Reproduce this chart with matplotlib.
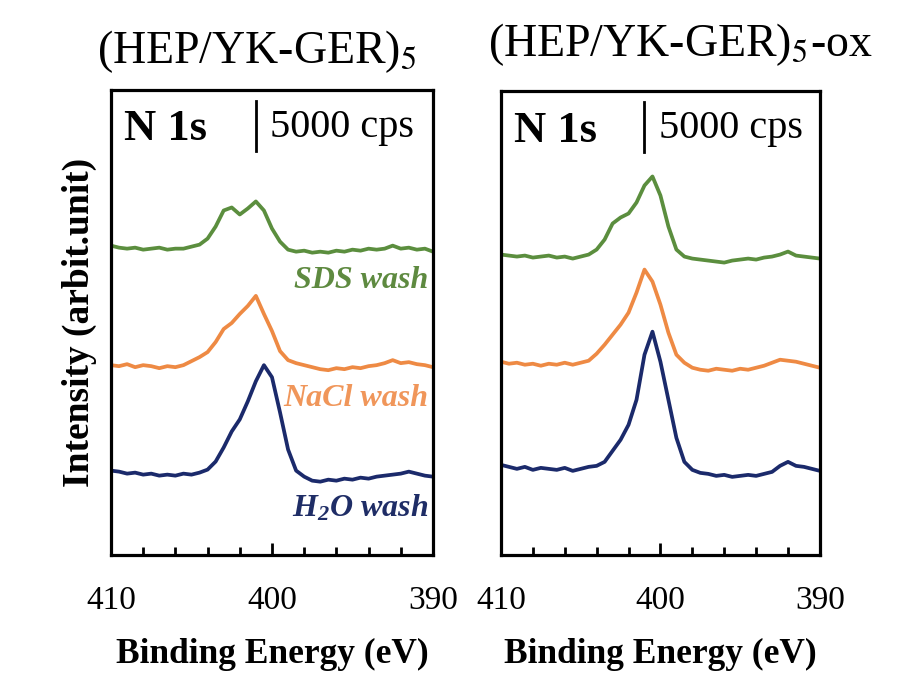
import numpy as np
import matplotlib.pyplot as plt

plt.rcParams['font.family'] = ['Liberation Serif', 'DejaVu Serif']
plt.rcParams['mathtext.fontset'] = 'custom'
plt.rcParams['mathtext.rm'] = 'Liberation Serif:bold:italic'
plt.rcParams['mathtext.it'] = 'Liberation Serif:bold:italic'

# Binding energy grid (eV), 410 -> 390 in 0.5 eV steps
energy = np.arange(410, 389.9, -0.5)

# Intensities in kcps (stacked with offsets as in the figure)
# (HEP/YK-GER)5
h2o_a = [8.4, 8.3, 8.1, 8.2, 8.0, 8.1, 7.9, 8.0, 7.9, 8.1, 8.0, 8.2, 8.5, 9.3, 10.7, 12.3,
         13.5, 15.3, 17.3, 18.9, 17.7, 14.2, 10.5, 8.4, 7.8, 7.4, 7.3, 7.5, 7.4, 7.6, 7.5,
         7.7, 7.6, 7.8, 7.9, 8.0, 8.1, 8.3, 8.1, 7.9, 7.8]
nacl_a = [18.9, 18.8, 19.0, 18.7, 18.9, 18.8, 18.6, 18.8, 18.7, 18.9, 19.3, 19.7, 20.2, 21.2,
          22.5, 23.1, 24.0, 24.8, 25.8, 24.0, 22.3, 20.3, 19.4, 19.1, 18.9, 18.7, 18.5, 18.4,
          18.6, 18.5, 18.7, 18.6, 18.8, 18.9, 19.1, 19.4, 19.1, 19.2, 19.0, 18.9, 18.7]
sds_a = [30.8, 30.6, 30.5, 30.6, 30.4, 30.5, 30.6, 30.4, 30.5, 30.5, 30.7, 30.9, 31.5, 32.7,
         34.3, 34.6, 33.9, 34.5, 35.2, 34.3, 32.5, 31.2, 30.4, 30.2, 30.3, 30.1, 30.2, 30.1,
         30.3, 30.2, 30.4, 30.3, 30.5, 30.4, 30.5, 30.8, 30.5, 30.6, 30.4, 30.5, 30.2]

# (HEP/YK-GER)5-ox
h2o_b = [9.0, 8.8, 8.6, 8.8, 8.5, 8.7, 8.6, 8.5, 8.7, 8.4, 8.6, 8.8, 8.9, 9.3, 10.4, 11.5,
         13.0, 15.5, 20.0, 22.3, 19.3, 15.5, 11.7, 9.3, 8.5, 8.2, 8.1, 7.9, 8.0, 7.8, 7.9,
         8.0, 7.9, 8.1, 8.3, 8.9, 9.3, 8.9, 8.8, 8.6, 8.4]
nacl_b = [19.3, 19.1, 19.2, 19.0, 19.1, 18.9, 19.1, 19.0, 19.2, 19.0, 19.2, 19.4, 20.1, 21.0,
          22.0, 23.0, 24.2, 26.2, 28.5, 27.3, 25.0, 22.2, 20.0, 19.2, 18.7, 18.5, 18.4, 18.6,
          18.5, 18.4, 18.6, 18.5, 18.7, 18.9, 19.2, 19.5, 19.4, 19.3, 19.1, 18.9, 18.7]
sds_b = [30.0, 29.9, 29.8, 29.9, 29.7, 29.8, 29.9, 29.7, 29.8, 29.6, 29.8, 30.0, 30.5, 31.5,
         33.1, 33.7, 34.1, 35.2, 36.9, 37.8, 35.9, 32.8, 30.5, 29.8, 29.6, 29.5, 29.4, 29.3,
         29.2, 29.4, 29.5, 29.6, 29.5, 29.7, 29.8, 30.0, 30.3, 29.9, 29.8, 29.7, 29.6]

titles = ["(HEP/YK-GER)$_5$", "(HEP/YK-GER)$_5$-ox"]
wash_labels = ["SDS wash", "NaCl wash", "H$_2$O wash"]
line_colors = ["#5b8e3e", "#ee8a44", "#1b2a6b"]
label_colors = ["#5e8a40", "#f0965a", "#1f2d66"]
label_y = [27.3, 15.6, 4.7]
scale_bar = 5.0  # 5000 cps

fig = plt.figure(figsize=(9.09, 6.92), dpi=100)
ax_a = fig.add_axes([0.1221, 0.198, 0.3542, 0.672])
ax_b = fig.add_axes([0.5511, 0.198, 0.3509, 0.670])

panels = [(ax_a, [sds_a, nacl_a, h2o_a]), (ax_b, [sds_b, nacl_b, h2o_b])]
for i, (ax, curves) in enumerate(panels):
    for y, c in zip(curves, line_colors):
        ax.plot(energy, y, color=c, lw=2.7)
    ax.set_xlim(410, 390)
    ax.set_ylim(0, 46.3)
    ax.set_xticks([410, 400, 390])
    ax.set_xticks(np.arange(390, 411, 2), minor=True)
    ax.tick_params(axis='x', which='major', direction='in', length=9, width=2,
                   labelsize=24, pad=22)
    ax.tick_params(axis='x', which='minor', direction='in', length=6, width=2)
    ax.set_yticks([])
    for s in ax.spines.values():
        s.set_linewidth(2.3)
    ax.set_xlabel("Binding Energy (eV)", fontsize=25.5, fontweight='bold', labelpad=16)

    ax.text(0.04, 0.915, "N 1s", transform=ax.transAxes, fontsize=32, fontweight='bold',
            va='center', ha='left')
    ax.plot([401.0, 401.0], [40.2, 40.2 + scale_bar], color='black', lw=2)
    ax.text(400.1, 42.6, "5000 cps", fontsize=29, va='center', ha='left')
    if i == 0:
        for lab, ly, lc in zip(wash_labels, label_y, label_colors):
            ax.text(0.985, ly, lab, transform=ax.get_yaxis_transform(), ha='right',
                    va='center', color=lc, fontsize=23, fontweight='bold', style='italic')

ax_a.set_ylabel("Intensity (arbit.unit)", fontsize=27, fontweight='bold', labelpad=10)

fig.text(0.283, 0.925, titles[0], fontsize=33, ha='center', va='center',
         math_fontfamily='stix')
fig.text(0.748, 0.935, titles[1], fontsize=33, ha='center', va='center',
         math_fontfamily='stix')

fig.savefig("out.png", dpi=100)
